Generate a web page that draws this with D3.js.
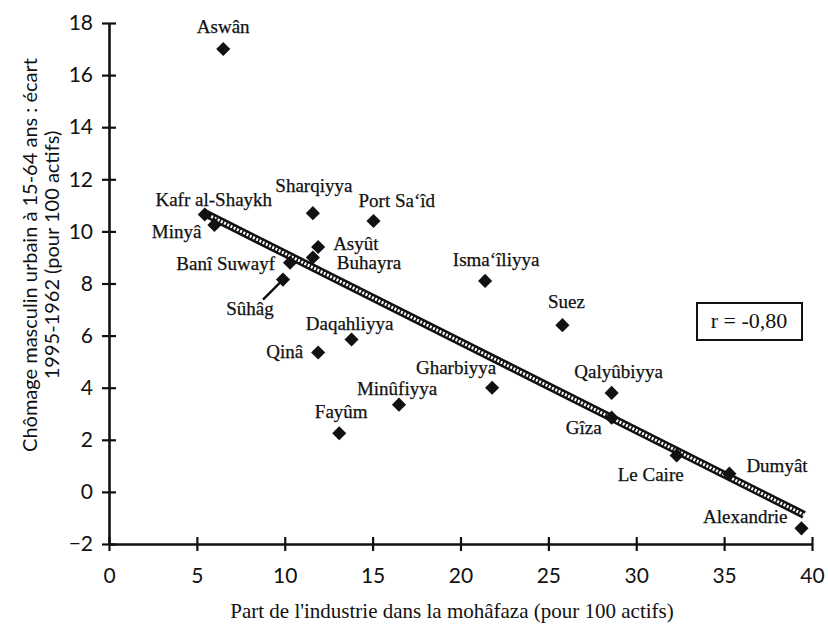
<!DOCTYPE html>
<html>
<head>
<meta charset="utf-8">
<script src="https://cdn.jsdelivr.net/npm/d3@7"></script>
<style>
  body { margin: 0; background: #fff; }
  #chart svg { display: block; }
  .lbl { font-family: 'Liberation Serif', 'Times New Roman', serif; font-size: 19px; fill: #111; stroke: #111; stroke-width: 0.25px; }
  .tick-lbl { font-family: Lato, 'Open Sans', sans-serif; font-size: 21px; fill: #111; }
</style>
</head>
<body>
<div id="chart"></div>
<script>
// mohâfaza names, industry share (x) and urban unemployment gap (y)
const names = ['Aswân', 'Kafr al-Shaykh', 'Minyâ', 'Sharqiyya', 'Port Sa\u2018îd', 'Asyût',
  'Buhayra', 'Banî Suwayf', 'Sûhâg', 'Isma\u2018îliyya', 'Suez', 'Daqahliyya', 'Qinâ',
  'Gharbiyya', 'Minûfiyya', 'Fayûm', 'Qalyûbiyya', 'Gîza', 'Le Caire', 'Dumyât', 'Alexandrie'];
const industry = [6.5, 5.45, 6.0, 11.6, 15.05, 11.9, 11.6, 10.3, 9.9, 21.4, 25.8, 13.8, 11.9,
  21.8, 16.5, 13.1, 28.6, 28.6, 32.3, 35.3, 39.4];
const unemployment = [17.0, 10.65, 10.25, 10.7, 10.4, 9.4, 9.0, 8.8, 8.15, 8.1, 6.4, 5.85, 5.35,
  4.0, 3.35, 2.25, 3.8, 2.85, 1.4, 0.7, -1.4];

// regression line end points
const fitX = [5.45, 39.55];
const fitY = [10.7, -0.88];

const xTicks = [0, 5, 10, 15, 20, 25, 30, 35, 40];
const yTicks = [-2, 0, 2, 4, 6, 8, 10, 12, 14, 16, 18];
const rLabel = 'r = -0,80';

// label placement: [anchor, dx, dy] relative to the point
const labelPos = {
  'Aswân': ['middle', 0, -16],
  'Kafr al-Shaykh': ['middle', 9, -8],
  'Minyâ': ['end', -13, 13],
  'Sharqiyya': ['middle', 1, -21],
  'Port Sa\u2018îd': ['start', -15, -14],
  'Asyût': ['start', 15, 3],
  'Buhayra': ['start', 24, 12],
  'Banî Suwayf': ['end', -15, 7],
  'Sûhâg': ['middle', -33, 35],
  'Isma\u2018îliyya': ['middle', 11, -15],
  'Suez': ['middle', 4, -17],
  'Daqahliyya': ['middle', -2, -10],
  'Qinâ': ['end', -15, 5],
  'Gharbiyya': ['end', 4, -14],
  'Minûfiyya': ['middle', -2, -10],
  'Fayûm': ['middle', 2, -15],
  'Qalyûbiyya': ['middle', 7, -15],
  'Gîza': ['end', -10, 16],
  'Le Caire': ['middle', -26, 26],
  'Dumyât': ['start', 17, -2],
  'Alexandrie': ['end', -14, -5],
};

const W = 828, H = 630;
const margin = { top: 23, right: 15, bottom: 86, left: 109 };
const width = W - margin.left - margin.right,
  height = H - margin.top - margin.bottom;

const data = names.map(function (n, i) {
  return { name: n, x: industry[i], y: unemployment[i] };
});

const svg = d3.select('#chart').append('svg')
  .attr('width', W)
  .attr('height', H)
  .append('g')
  .attr('transform', `translate(${margin.left}, ${margin.top})`);

const x = d3.scaleLinear().domain([0, 40]).range([0, width - 1]);
const y = d3.scaleLinear().domain([-2, 18]).range([height, 0]);

// axes
const xAxis = svg.append('g')
  .attr('transform', `translate(0, ${height})`)
  .call(d3.axisBottom(x).tickValues(xTicks).tickSize(0).tickPadding(24));
const yAxis = svg.append('g')
  .call(d3.axisLeft(y).tickValues(yTicks).tickSize(0).tickPadding(16));

svg.selectAll('.domain').attr('stroke', '#111').attr('stroke-width', 2.6);
svg.selectAll('.tick text').attr('class', 'tick-lbl').attr('font-size', null).attr('font-family', null);

xAxis.selectAll('.tick').append('line')
  .attr('y1', -7).attr('y2', 7)
  .attr('stroke', '#111').attr('stroke-width', 2.2);
yAxis.selectAll('.tick').append('line')
  .attr('x1', -7).attr('x2', 7)
  .attr('stroke', '#111').attr('stroke-width', 2.2);

// regression line, drawn as a hatched band
const fit = fitX.map(function (d, i) { return [x(d), y(fitY[i])]; });
svg.append('line')
  .attr('x1', fit[0][0]).attr('y1', fit[0][1])
  .attr('x2', fit[1][0]).attr('y2', fit[1][1])
  .attr('stroke', '#111').attr('stroke-width', 8);
svg.append('line')
  .attr('x1', fit[0][0]).attr('y1', fit[0][1])
  .attr('x2', fit[1][0]).attr('y2', fit[1][1])
  .attr('stroke', '#fff').attr('stroke-width', 3)
  .attr('stroke-dasharray', '2,1.6');

// Sûhâg pointer
const suhag = data.find(function (d) { return d.name === 'Sûhâg'; });
svg.append('line')
  .attr('x1', x(suhag.x) - 20).attr('y1', y(suhag.y) + 20)
  .attr('x2', x(suhag.x)).attr('y2', y(suhag.y))
  .attr('stroke', '#111').attr('stroke-width', 2.5);

// points
const diamond = d3.symbol().type(d3.symbolSquare).size(100);
svg.append('g').selectAll('path')
  .data(data)
  .join('path')
  .attr('d', diamond)
  .attr('transform', function (d) {
    return `translate(${x(d.x)}, ${y(d.y)}) rotate(45)`;
  })
  .attr('fill', '#111');

// point labels
svg.append('g').selectAll('text')
  .data(data)
  .join('text')
  .attr('class', 'lbl')
  .attr('text-anchor', function (d) { return labelPos[d.name][0]; })
  .attr('x', function (d) { return x(d.x) + labelPos[d.name][1]; })
  .attr('y', function (d) { return y(d.y) + labelPos[d.name][2]; })
  .text(function (d) { return d.name; });

// correlation box
svg.append('rect')
  .attr('x', 588).attr('y', 280)
  .attr('width', 105).attr('height', 37)
  .attr('fill', '#fff').attr('stroke', '#111').attr('stroke-width', 2);
svg.append('text')
  .attr('x', 640).attr('y', 305)
  .attr('text-anchor', 'middle')
  .style('font-family', "'Liberation Serif', serif")
  .style('font-size', '22px')
  .attr('fill', '#111')
  .text(rLabel);

// axis titles
svg.append('text')
  .attr('x', 343).attr('y', height + 74)
  .attr('text-anchor', 'middle')
  .style('font-family', "'Liberation Serif', serif")
  .style('font-size', '21px')
  .attr('fill', '#111')
  .text("Part de l'industrie dans la mohâfaza (pour 100 actifs)");

const yTitle = svg.append('text')
  .attr('transform', 'translate(-72, 232) rotate(-90)')
  .attr('text-anchor', 'middle')
  .style('font-family', "Lato, 'Open Sans', sans-serif")
  .style('font-size', '20px')
  .attr('fill', '#111');
yTitle.append('tspan').attr('x', 0).attr('y', 0)
  .text('Chômage masculin urbain à 15-64 ans : écart');
yTitle.append('tspan').attr('x', 0).attr('y', 22)
  .text('1995-1962 (pour 100 actifs)');
</script>
</body>
</html>
